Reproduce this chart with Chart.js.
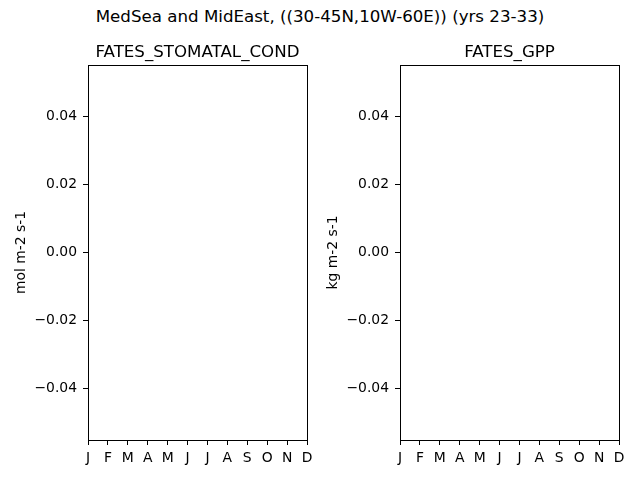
<!DOCTYPE html>
<html>
<head>
<meta charset="utf-8">
<script src="https://cdn.jsdelivr.net/npm/chart.js@4/dist/chart.umd.min.js"></script>
<style>
  body { margin: 0; background: #fff; }
  #wrap { position: relative; width: 640px; height: 480px; overflow: hidden; }
  #suptitle {
    position: absolute; left: 0; top: 7px; width: 640px; text-align: center;
    font: 16.67px "DejaVu Sans", sans-serif; color: #000;
  }
  canvas { position: absolute; top: 0; }
</style>
</head>
<body>
<div id="wrap">
  <div id="suptitle">MedSea and MidEast, ((30-45N,10W-60E)) (yrs 23-33)</div>
  <canvas id="left" width="320" height="480" style="left:0"></canvas>
  <canvas id="right" width="320" height="480" style="left:320px"></canvas>
</div>
<script>
const months = ['J','F','M','A','M','J','J','A','S','O','N','D'];
// both fields came out empty for this region
const stomatalCond = [null, null, null, null, null, null, null, null, null, null, null, null];
const gpp = [null, null, null, null, null, null, null, null, null, null, null, null];
const yTicks = [-0.04, -0.02, 0.00, 0.02, 0.04];
const Y_MIN = -0.055;
const Y_MAX = 0.055;

const FONT = '"DejaVu Sans", sans-serif';

// matplotlib-style box round the axes
const frame = {
  id: 'frame',
  afterDraw(chart) {
    const {ctx, chartArea: a} = chart;
    ctx.save();
    ctx.strokeStyle = '#000';
    ctx.lineWidth = 1;
    ctx.strokeRect(Math.round(a.left) + 0.5, Math.round(a.top) + 0.5,
                   Math.round(a.right - a.left), Math.round(a.bottom - a.top));
    ctx.restore();
  }
};

const makeChart = (id, title, unit, values, padLeft, padRight) => {
  const ctxt = document.getElementById(id).getContext('2d');
  return new Chart(ctxt, {
    type: 'line',
    data: {
      labels: months,
      datasets: [{ label: title, data: values, borderColor: '#1f77b4', pointRadius: 0 }]
    },
    plugins: [frame],
    options: {
      responsive: false,
      animation: false,
      devicePixelRatio: 1,
      layout: { padding: { top: 0, bottom: 0, left: padLeft, right: padRight } },
      plugins: {
        legend: { display: false },
        tooltip: { enabled: false },
        title: {
          display: true, text: title, color: '#000', fullSize: false,
          font: { family: FONT, size: 16.67, weight: 'normal' },
          padding: { top: 43, bottom: 2 }
        }
      },
      scales: {
        x: {
          offset: false,
          border: { display: false },
          grid: { drawOnChartArea: false, color: '#000', tickLength: 5 },
          ticks: { color: '#000', font: { family: FONT, size: 13.9 }, padding: 5,
                   autoSkip: false, maxRotation: 0 },
          afterFit: (s) => { s.height = 40; }
        },
        y: {
          min: Y_MIN, max: Y_MAX,
          border: { display: false },
          grid: { drawOnChartArea: false, color: '#000', tickLength: 5 },
          afterBuildTicks: (s) => { s.ticks = yTicks.map(v => ({ value: v })); },
          ticks: {
            color: '#000', font: { family: FONT, size: 13.9 }, padding: 6,
            callback: (v) => Number(v).toFixed(2).replace('-', '\u2212')
          },
          title: { display: true, text: unit, color: '#000',
                   font: { family: FONT, size: 13.9 }, padding: { top: 5, bottom: 0 } },
          afterFit: (s) => { s.width = 80; }
        }
      }
    }
  });
};

makeChart('left', 'FATES_STOMATAL_COND', 'mol m-2 s-1', stomatalCond, 8, 13);
makeChart('right', 'FATES_GPP', 'kg m-2 s-1', gpp, 0, 21);
</script>
</body>
</html>
